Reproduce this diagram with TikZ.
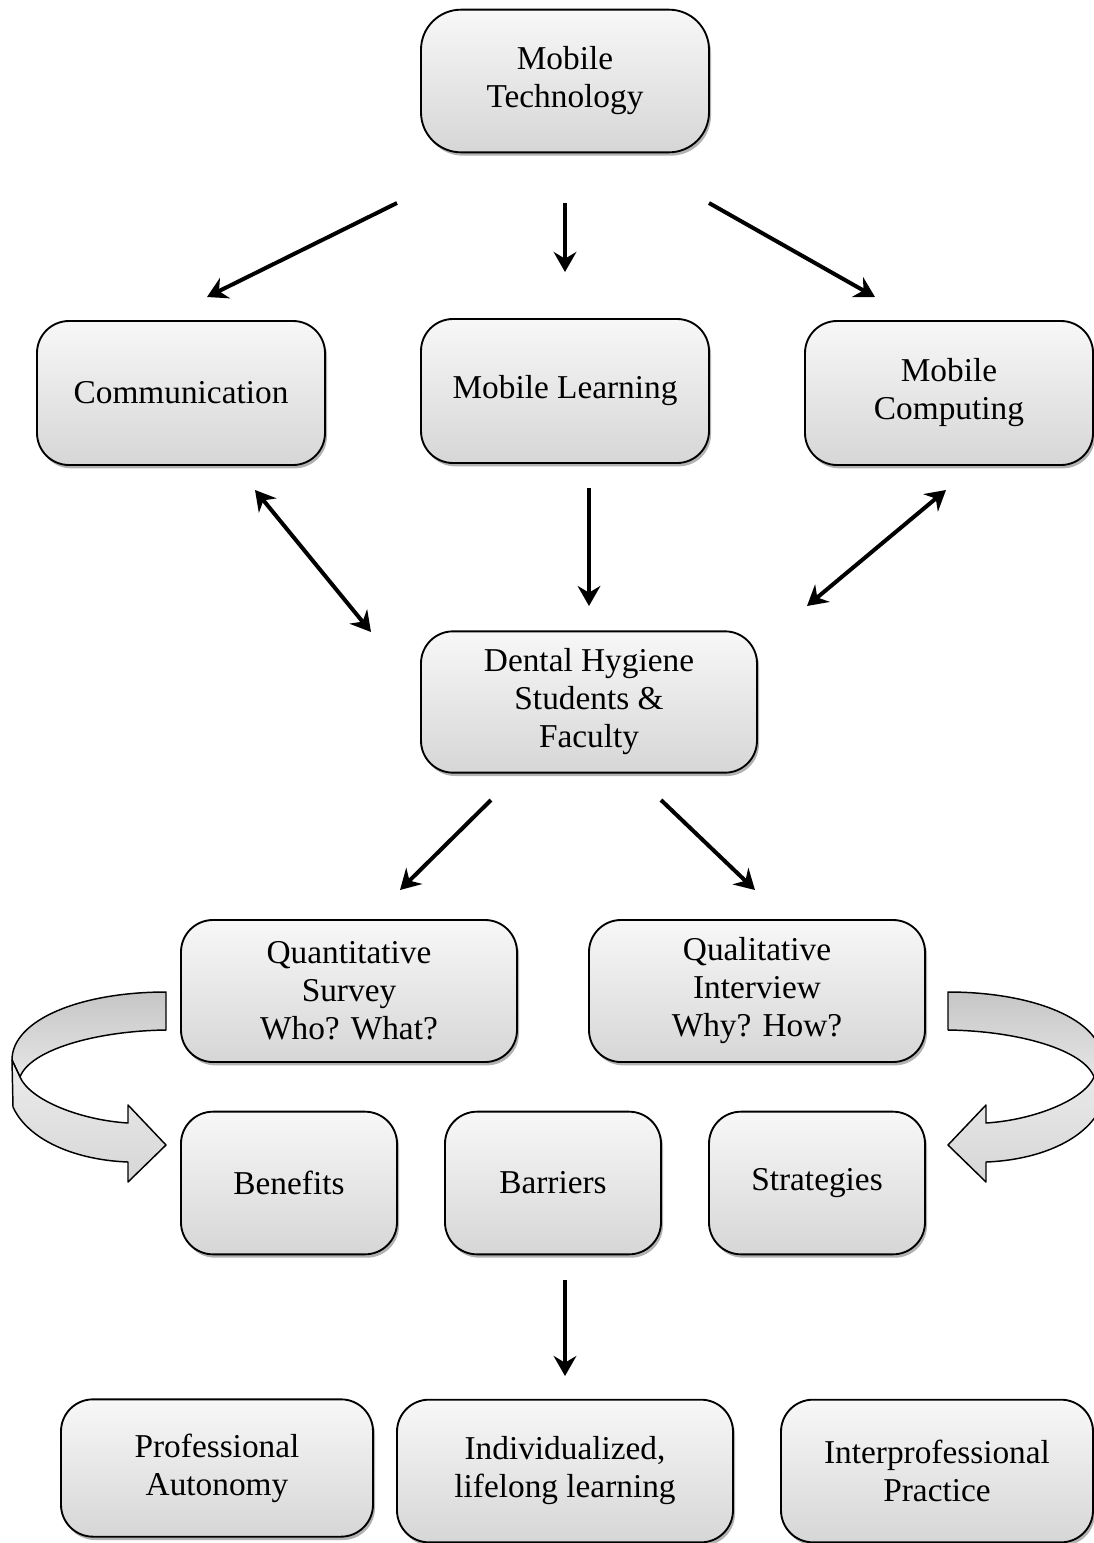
\documentclass[tikz,border=0pt]{standalone}
\usepackage{fontspec}
\setmainfont{Liberation Serif}
\usetikzlibrary{arrows.meta,shadows}
\begin{document}
\begin{tikzpicture}[x=0.75pt,y=-0.75pt,
  box/.style={draw=black, line width=1.4pt, rounded corners=24pt,
    top color=gray!6, bottom color=gray!32, align=center,
    font=\fontsize{25}{28.5}\selectfont, inner sep=0pt,
    drop shadow={shadow xshift=1.5pt, shadow yshift=-2.5pt, opacity=0.3, fill=black}},
  arr/.style={line width=3pt, -{Stealth[length=15pt,width=17pt,inset=5pt]}},
  darr/.style={line width=3pt, {Stealth[length=15pt,width=17pt,inset=5pt]}-{Stealth[length=15pt,width=17pt,inset=5pt]}},
  ribtop/.style={draw=black, line width=1.1pt, line join=round, top color=gray!45, bottom color=gray!20},
  ribfront/.style={draw=black, line width=1.1pt, line join=round, top color=gray!15, bottom color=gray!32}
]
\useasboundingbox (0,0) rectangle (1094,1543);

% boxes
\node[box, minimum width=216pt, minimum height=107pt, rounded corners=30pt] (mt) at (565,81) {Mobile\\Technology};
\node[box, minimum width=216pt, minimum height=108pt] (comm) at (181,393) {Communication};
\node[box, minimum width=216pt, minimum height=108pt] (ml) at (565,391) {Mobile Learning};
\node[box, minimum width=216pt, minimum height=108pt] (mc) at (949,393) {Mobile\\Computing};
\node[box, minimum width=252pt, minimum height=106pt] (dh) at (589,702) {Dental Hygiene\\Students \&\\Faculty};
\node[box, minimum width=252pt, minimum height=106.5pt] (qs) at (349,991) {Quantitative\\Survey\\Who? What?};
\node[box, minimum width=252pt, minimum height=106.5pt] (qi) at (757,991) {Qualitative\\Interview\\Why? How?};
\node[box, minimum width=162pt, minimum height=107pt] (ben) at (289,1183) {Benefits};
\node[box, minimum width=162pt, minimum height=107pt] (bar) at (553,1183) {Barriers};
\node[box, minimum width=162pt, minimum height=107pt] (str) at (817,1183) {Strategies};
\node[box, minimum width=234pt, minimum height=103pt] (pa) at (217,1468) {Professional\\Autonomy};
\node[box, minimum width=252pt, minimum height=107pt] (il) at (565,1471) {Individualized,\\lifelong learning};
\node[box, minimum width=234pt, minimum height=107pt] (ip) at (937,1471) {Interprofessional\\Practice};

% connector end points
\coordinate (a1s) at (397,203); \coordinate (a1e) at (207,297);
\coordinate (a2s) at (565,203); \coordinate (a2e) at (565,272);
\coordinate (a3s) at (709,203); \coordinate (a3e) at (875,297);
\coordinate (b1s) at (255,490); \coordinate (b1e) at (371,632);
\coordinate (b2s) at (589,488); \coordinate (b2e) at (589,606);
\coordinate (b3s) at (946,490); \coordinate (b3e) at (807,606);
\coordinate (c1s) at (491,800); \coordinate (c1e) at (400,890);
\coordinate (c2s) at (661,800); \coordinate (c2e) at (755,890);
\coordinate (d1s) at (565,1280); \coordinate (d1e) at (565,1376);

\draw[arr] (a1s) -- (a1e);
\draw[arr] (a2s) -- (a2e);
\draw[arr] (a3s) -- (a3e);
\draw[darr] (b1s) -- (b1e);
\draw[arr] (b2s) -- (b2e);
\draw[darr] (b3s) -- (b3e);
\draw[arr] (c1s) -- (c1e);
\draw[arr] (c2s) -- (c2e);
\draw[arr] (d1s) -- (d1e);

% curved block arrows
\foreach \sh/\sc in {0/1, 1114/-1}{
\begin{scope}[shift={(\sh,0)}, xscale=\sc]
  \path[ribtop] (166,992) -- (166,1030) .. controls (95,1031) and (30,1050) .. (20,1077)
    -- (12,1060) .. controls (12,1020) and (80,992) .. cycle;
  \path[ribfront] (12,1060) -- (13,1107) .. controls (28,1140) and (75,1160) .. (128,1162)
    -- (128,1182) -- (166,1145) -- (128,1105) -- (128,1123)
    .. controls (80,1120) and (30,1100) .. (20,1077) -- cycle;
\end{scope}}
\end{tikzpicture}
\end{document}
